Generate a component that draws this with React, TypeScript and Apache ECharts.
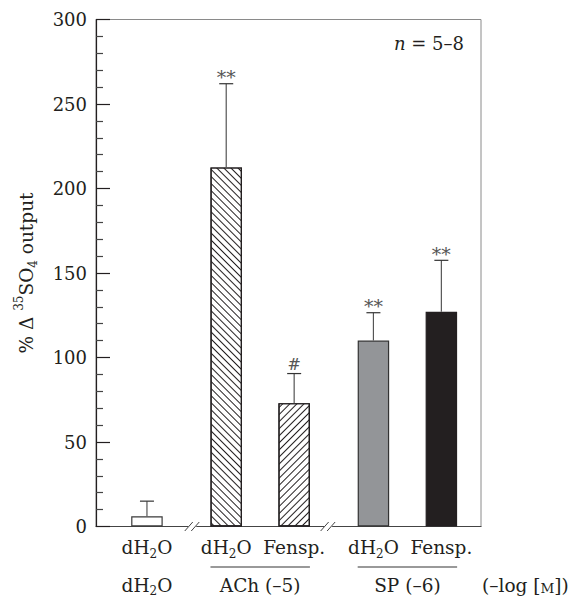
import React, { useEffect, useRef } from "react";
import * as echarts from "echarts";

// ---------- data ----------
const categories = ["ctrl dH2O", "ACh dH2O", "ACh Fensp.", "SP dH2O", "SP Fensp."];
const tickLabels = ["dH2O", "dH2O", "Fensp.", "dH2O", "Fensp."];
const meanValues = [6, 212.5, 73, 110, 127];
const semValues = [9, 49.5, 17.5, 16.5, 30.5];
const significance = ["", "**", "#", "**", "**"];
const groupLabels = ["dH2O", "ACh (–5)", "SP (–6)"];
const groupMembers = [
  [0, 0],
  [1, 2],
  [3, 4],
];
const yMin = 0;
const yMax = 300;
const yInterval = 50;

// ---------- layout ----------
const slotCount = 34;
const barSlots = [4, 11, 17, 24, 30];
const breakSlots = [8, 20];
const BAR_W = 31.5;

const FONT = "'DejaVu Serif', serif";
const INK = "#231f20";

// subscript only digits that follow a letter (chemical formulae)
const chem = (s: string) => s.replace(/([A-Za-z])(\d)/g, "$1{s|$2}");

const barStyles: any[] = [
  { color: "#ffffff", borderColor: "#3a3a3a", borderWidth: 1.2 },
  {
    color: "#ffffff",
    borderColor: INK,
    borderWidth: 1.2,
    decal: {
      symbol: "rect",
      symbolSize: 1,
      dashArrayX: [1, 0],
      dashArrayY: [0.9, 3.3],
      rotation: Math.PI / 4,
      color: INK,
    },
  },
  {
    color: "#ffffff",
    borderColor: INK,
    borderWidth: 1.2,
    decal: {
      symbol: "rect",
      symbolSize: 1,
      dashArrayX: [1, 0],
      dashArrayY: [0.9, 3.8],
      rotation: -Math.PI / 4,
      color: INK,
    },
  },
  { color: "#939598", borderColor: "#333333", borderWidth: 1.2 },
  { color: INK, borderColor: INK, borderWidth: 1.2 },
];

export default function App() {
  const ref = useRef<HTMLDivElement>(null);

  useEffect(() => {
    if (!ref.current) return;
    const chart = echarts.init(ref.current, null, { renderer: "svg" });

    const slotNames = Array.from({ length: slotCount }, (_, s) => {
      const k = barSlots.indexOf(s);
      return k >= 0 ? categories[k] : `gap-${s}`;
    });

    const subRich = {
      fontFamily: FONT,
      fontSize: 12,
      lineHeight: 10,
      verticalAlign: "bottom",
      color: INK,
      fill: INK,
    };

    const option: any = {
      animation: false,
      grid: {
        left: 96,
        right: 93,
        top: 19.5,
        bottom: 72.5,
        show: true,
        borderColor: "#8a8a8a",
        borderWidth: 1,
      },
      graphic: [
        {
          type: "text",
          x: 464,
          y: 43,
          style: {
            text: "{i|n} = 5–8",
            align: "right",
            verticalAlign: "middle",
            fontFamily: FONT,
            fontSize: 18,
            fill: INK,
            rich: {
              i: { fontFamily: FONT, fontSize: 18, fontStyle: "italic", fill: INK },
            },
          },
        },
        {
          type: "text",
          x: 482,
          y: 585,
          style: {
            text: "(–log [{sc|M}])",
            align: "left",
            verticalAlign: "middle",
            fontFamily: FONT,
            fontSize: 18.5,
            fill: INK,
            rich: {
              sc: { fontFamily: FONT, fontSize: 13.5, fill: INK, verticalAlign: "bottom", lineHeight: 18 },
            },
          },
        },
      ],
      xAxis: {
        type: "category",
        data: slotNames,
        boundaryGap: true,
        axisLine: { show: true, lineStyle: { color: "#444", width: 1.2 } },
        axisTick: { show: false },
        splitLine: { show: false },
        axisLabel: {
          interval: 0,
          margin: 9,
          fontFamily: FONT,
          fontSize: 18.5,
          color: INK,
          lineHeight: 24,
          formatter: (v: string) => {
            const k = categories.indexOf(v);
            return k < 0 ? "" : chem(tickLabels[k]);
          },
          rich: { s: subRich },
        },
      },
      yAxis: {
        type: "value",
        min: yMin,
        max: yMax,
        interval: yInterval,
        axisLine: { show: true, lineStyle: { color: INK, width: 1.2 } },
        axisTick: { show: true, inside: true, length: 14, lineStyle: { color: INK, width: 1.2 } },
        minorTick: { show: true, splitNumber: 5, length: 7, lineStyle: { color: "#444", width: 1.2 } },
        splitLine: { show: false },
        axisLabel: { margin: 9, fontFamily: FONT, fontSize: 18, color: INK },
        name: "% Δ {sup|35}SO{s|4} output",
        nameLocation: "middle",
        nameGap: 57,
        nameTextStyle: {
          fontFamily: FONT,
          fontSize: 18.5,
          color: INK,
          lineHeight: 26,
          rich: {
            sup: { fontFamily: FONT, fontSize: 12, lineHeight: 10, verticalAlign: "top", color: INK },
            s: { fontFamily: FONT, fontSize: 12, lineHeight: 10, verticalAlign: "bottom", color: INK },
          },
        },
      },
      series: [
        {
          type: "bar",
          barWidth: BAR_W,
          data: meanValues.map((v, k) => ({
            value: [barSlots[k], v],
            itemStyle: barStyles[k],
          })),
        },
        {
          type: "custom",
          z: 5,
          encode: { x: 0, y: [1, 2] },
          data: meanValues.map((v, k) => [barSlots[k], v, semValues[k]]),
          renderItem: (params: any, api: any) => {
            const k = params.dataIndex;
            const x = api.value(0);
            const m = api.value(1);
            const e = api.value(2);
            const base = api.coord([x, m]);
            const tip = api.coord([x, m + e]);
            const children: any[] = [
              {
                type: "line",
                shape: { x1: base[0], y1: base[1], x2: tip[0], y2: tip[1] },
                style: { stroke: "#555", lineWidth: 1.2 },
              },
              {
                type: "line",
                shape: { x1: tip[0] - 7, y1: tip[1], x2: tip[0] + 7, y2: tip[1] },
                style: { stroke: "#333", lineWidth: 1.2 },
              },
            ];
            const sig = significance[k];
            if (sig) {
              const isStar = sig.indexOf("*") >= 0;
              children.push({
                type: "text",
                x: tip[0],
                y: isStar ? tip[1] + 3 : tip[1] - 1,
                style: {
                  text: sig,
                  align: "center",
                  verticalAlign: "bottom",
                  fontFamily: FONT,
                  fontSize: isStar ? 19 : 16,
                  fill: "#555",
                },
              });
            }
            return { type: "group", children };
          },
        },
        {
          type: "custom",
          z: 6,
          encode: { x: 0, y: 1 },
          data: breakSlots.map((s) => [s, 0]),
          renderItem: (params: any, api: any) => {
            const p = api.coord([api.value(0), 0]);
            const c = p[0];
            const y = p[1];
            return {
              type: "group",
              children: [
                {
                  type: "rect",
                  shape: { x: c - 4, y: y - 3, width: 8, height: 6 },
                  style: { fill: "#ffffff" },
                },
                {
                  type: "line",
                  shape: { x1: c - 7.5, y1: y + 4.5, x2: c + 0.5, y2: y - 4.5 },
                  style: { stroke: "#444", lineWidth: 1 },
                },
                {
                  type: "line",
                  shape: { x1: c - 1, y1: y + 4.5, x2: c + 7, y2: y - 4.5 },
                  style: { stroke: "#444", lineWidth: 1 },
                },
              ],
            };
          },
        },
        {
          type: "custom",
          z: 6,
          encode: { x: [0, 1], y: 2 },
          data: groupMembers.map(([a, b]) => [barSlots[a], barSlots[b], 0]),
          renderItem: (params: any, api: any) => {
            const g = params.dataIndex;
            const a = api.value(0);
            const b = api.value(1);
            const p0 = api.coord([a, 0]);
            const p1 = api.coord([b, 0]);
            const y = p0[1];
            const cx = (p0[0] + p1[0]) / 2;
            const children: any[] = [];
            if (a !== b) {
              children.push({
                type: "line",
                shape: { x1: p0[0] - BAR_W / 2, y1: y + 40.5, x2: p1[0] + BAR_W / 2, y2: y + 40.5 },
                style: { stroke: "#777", lineWidth: 1.5 },
              });
            }
            children.push({
              type: "text",
              x: cx,
              y: y + 58.5,
              style: {
                text: chem(groupLabels[g]),
                align: "center",
                verticalAlign: "middle",
                fontFamily: FONT,
                fontSize: 18.5,
                lineHeight: 24,
                fill: INK,
                rich: { s: { fontFamily: FONT, fontSize: 12, lineHeight: 10, verticalAlign: "bottom", fill: INK } },
              },
            });
            return { type: "group", children };
          },
        },
      ],
    };

    chart.setOption(option);
    return () => chart.dispose();
  }, []);

  return (
    <div
      ref={ref}
      style={{ position: "fixed", left: 0, top: 0, width: 574, height: 599, background: "#fff" }}
    />
  );
}
